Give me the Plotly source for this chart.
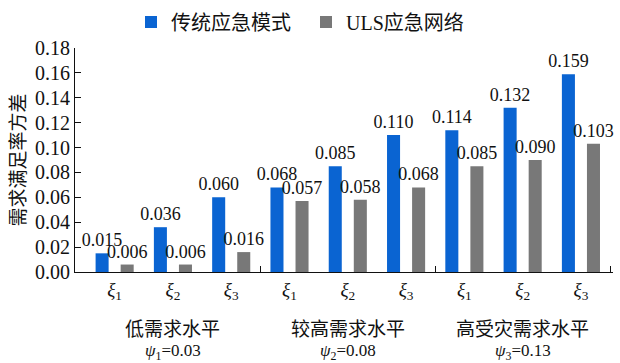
import plotly.graph_objects as go

categories = ["ξ1", "ξ2", "ξ3", "ξ1", "ξ2", "ξ3", "ξ1", "ξ2", "ξ3"]
tick_labels = ["<i>ξ</i><sub>1</sub>", "<i>ξ</i><sub>2</sub>", "<i>ξ</i><sub>3</sub>"] * 3
traditional = [0.015, 0.036, 0.060, 0.068, 0.085, 0.110, 0.114, 0.132, 0.159]
uls = [0.006, 0.006, 0.016, 0.057, 0.058, 0.068, 0.085, 0.090, 0.103]
group_names = ["低需求水平", "较高需求水平", "高受灾需求水平"]
group_psi = ["<i>ψ</i><sub>1</sub>=0.03", "<i>ψ</i><sub>2</sub>=0.08", "<i>ψ</i><sub>3</sub>=0.13"]
group_centers = [1, 4, 7]
group_bounds = [2.5, 5.5, 8.5]
series_names = ["传统应急模式", "ULS应急网络"]

FONT = "Liberation Serif, Times New Roman, Noto Sans CJK SC, serif"
x = list(range(len(categories)))

fig = go.Figure()
fig.add_trace(go.Bar(x=x, y=traditional, name=series_names[0], marker_color="#0a64d2",
                     texttemplate="%{y:.3f}", textposition="outside", constraintext="none",
                     textfont=dict(family=FONT, size=18, color="#111"), cliponaxis=False,
                     legend="legend"))
fig.add_trace(go.Bar(x=x, y=uls, name=series_names[1], marker_color="#787878",
                     texttemplate="%{y:.3f}", textposition="outside", constraintext="none",
                     textfont=dict(family=FONT, size=18, color="#111"), cliponaxis=False,
                     legend="legend2"))

# separator ticks on overlaid axis
fig.add_trace(go.Scatter(x=[group_bounds[0]], y=[None], xaxis="x2", showlegend=False, hoverinfo="skip"))

annotations = []
for c, n, p in zip(group_centers, group_names, group_psi):
    annotations.append(dict(x=c, y=0, xref="x", yref="paper", text=n, showarrow=False,
                            yanchor="middle", yshift=-57, font=dict(family=FONT, size=19, color="#111")))
    annotations.append(dict(x=c, y=0, xref="x", yref="paper", text=p, showarrow=False,
                            yanchor="middle", yshift=-80, font=dict(family=FONT, size=17, color="#111")))

L, R, T, B = 75, 7, 5, 91
W = 620 - L - R
H = 363 - T - B
leg_common = dict(orientation="h", xanchor="left", yanchor="middle", y=1 - (22 - T) / H,
                  font=dict(family=FONT, size=20, color="#111"), itemwidth=30,
                  bgcolor="rgba(0,0,0,0)")
fig.update_layout(
    template="none",
    width=620, height=363,
    margin=dict(l=L, r=R, t=T, b=B, autoexpand=False),
    paper_bgcolor="white", plot_bgcolor="white",
    barmode="group", bargap=0.14, bargroupgap=0.48,
    font=dict(family=FONT, size=18, color="#111"),
    legend=dict(x=(131 - L) / W, **leg_common),
    legend2=dict(x=(306 - L) / W, **leg_common),
    xaxis=dict(range=[-0.68, 8.55], tickvals=x, ticktext=tick_labels, showline=True,
               linecolor="#111", linewidth=1.2, ticks="", showgrid=False, zeroline=False,
               automargin=False, tickfont=dict(family=FONT, size=19, color="#111")),
    xaxis2=dict(range=[-0.68, 8.55], overlaying="x", side="bottom", tickvals=group_bounds,
                ticks="inside", ticklen=6, tickcolor="#111", showticklabels=False,
                showline=False, showgrid=False, zeroline=False, automargin=False),
    yaxis=dict(range=[0, 0.18], domain=[0, 1 - (48 - T) / H],
               tickvals=[i * 0.02 for i in range(10)], tickformat=".2f",
               showline=True, linecolor="#111", linewidth=1.2, ticks="inside", ticklen=6,
               tickcolor="#111", showgrid=False, zeroline=False, automargin=False,
               tickfont=dict(family=FONT, size=20, color="#111"),
               title=dict(text="需求满足率方差", standoff=4,
                          font=dict(family=FONT, size=19, color="#111"))),
    annotations=annotations,
)

fig.write_html("out.html")
